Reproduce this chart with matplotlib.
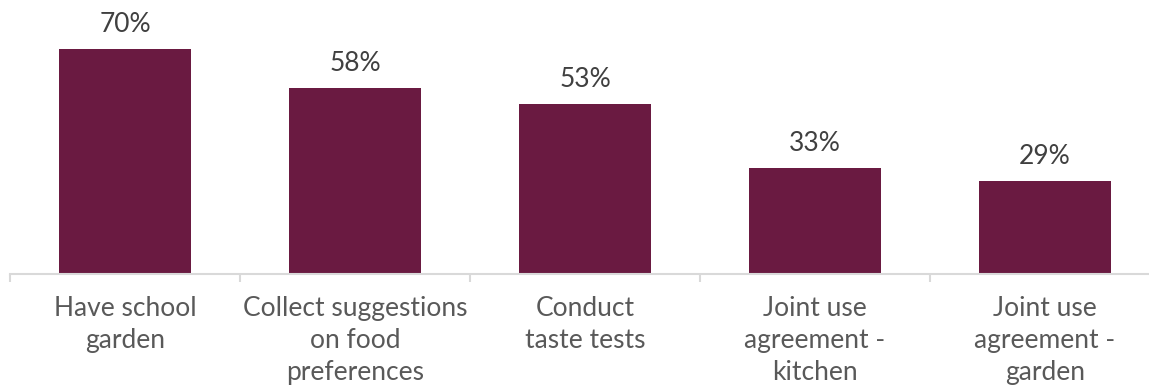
import matplotlib
matplotlib.use("Agg")
import matplotlib.pyplot as plt

categories = [
    "Have school\ngarden",
    "Collect suggestions\non food\npreferences",
    "Conduct\ntaste tests",
    "Joint use\nagreement -\nkitchen",
    "Joint use\nagreement -\ngarden",
]
values = [70, 58, 53, 33, 29]
value_labels = ["70%", "58%", "53%", "33%", "29%"]

BAR_COLOR = "#6A1A41"
AXIS_COLOR = "#D9D9D9"
TEXT_COLOR = "#595959"
VALUE_COLOR = "#404040"

plt.rcParams["font.family"] = ["Lato", "DejaVu Sans"]

W, H = 1149, 385
fig = plt.figure(figsize=(W / 100, H / 100), dpi=100)
ax = fig.add_axes([10 / W, (H - 274) / H, 1150 / W, 257 / H])

x = list(range(len(categories)))
bars = ax.bar(x, values, width=0.574, color=BAR_COLOR, zorder=2)

for bar, lab in zip(bars, value_labels):
    ax.annotate(lab, (bar.get_x() + bar.get_width() / 2, bar.get_height()),
                xytext=(0, 12), textcoords="offset points",
                ha="center", va="baseline", fontsize=19, color=VALUE_COLOR)

ax.set_xlim(-0.5, len(categories) - 0.5)
ax.set_ylim(0, 80)

for s in ("top", "right", "left"):
    ax.spines[s].set_visible(False)
ax.spines["bottom"].set_color(AXIS_COLOR)
ax.spines["bottom"].set_linewidth(1.5)

ax.set_yticks([])
ax.set_xticks([i - 0.5 for i in range(len(categories) + 1)])
ax.set_xticklabels([])
ax.tick_params(axis="x", which="major", direction="out", length=6,
               width=1.5, color=AXIS_COLOR)
ax.set_xticks(x, minor=True)
ax.set_xticklabels(categories, minor=True, fontsize=19, color=TEXT_COLOR,
                   linespacing=1.37, va="top")
ax.tick_params(axis="x", which="minor", length=0, pad=15.5)

fig.savefig("out.png", dpi=100)
